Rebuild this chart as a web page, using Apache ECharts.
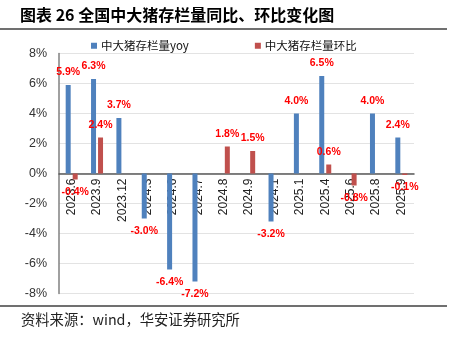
<!DOCTYPE html>
<html>
<head>
<meta charset="utf-8">
<script src="https://cdn.jsdelivr.net/npm/echarts@6/dist/echarts.min.js"></script>
<style>
  html, body { margin: 0; padding: 0; background: #fff; }
  #chart { width: 457px; height: 341px; }
</style>
</head>
<body>
<div id="chart"></div>
<script>
// Sampling months
const categories = ['2023.6', '2023.9', '2023.12', '2024.3', '2024.6', '2024.7', '2024.8',
  '2024.9', '2024.1', '2025.1', '2025.4', '2025.6', '2025.8', '2025.9'];
// Year-on-year change of medium/large hog inventory (%)
const yoyValues = [5.9, 6.3, 3.7, -3.0, -6.4, -7.2, null, null, -3.2, 4.0, 6.5, null, 4.0, 2.4];
// Month-on-month change (%)
const momValues = [-0.4, 2.4, null, null, null, null, 1.8, 1.5, null, null, 0.6, -0.8, null, -0.1];
const yTicks = { min: -8, max: 8, interval: 2 };

const seriesNames = ['中大猪存栏量yoy', '中大猪存栏量环比'];
const colors = ['#4F81BD', '#C0504D'];

const gridTop = 53.5, gridBottom = 47.5, chartHeight = 341;
// distance from the plot bottom up to the zero line, so the category axis sits on it
const plotHeight = chartHeight - gridTop - gridBottom;
const zeroOffset = -plotHeight * (0 - yTicks.min) / (yTicks.max - yTicks.min);

function withLabels(values) {
  return values.map(v => {
    if (v === null) return '-';
    return {
      value: v,
      label: { position: v >= 0 ? 'top' : 'bottom' }
    };
  });
}

const labelStyle = {
  show: true,
  color: '#FF0000',
  fontWeight: 'bold',
  fontSize: 10.5,
  fontFamily: 'Liberation Sans, Arial, sans-serif',
  distance: 7,
  formatter: p => p.value.toFixed(1) + '%'
};

const chart = echarts.init(document.getElementById('chart'), null, { renderer: 'canvas' });
chart.setOption({
  animation: false,
  backgroundColor: '#ffffff',
  graphic: [
    {
      type: 'text', left: 20, top: 7,
      style: {
        text: '图表 26 全国中大猪存栏量同比、环比变化图',
        font: 'bold 16px "Noto Sans CJK SC", sans-serif',
        fill: '#000'
      }
    },
    { type: 'line', shape: { x1: 0, y1: 29, x2: 447, y2: 29 }, style: { stroke: '#404040', lineWidth: 1.5 } },
    { type: 'line', shape: { x1: 0, y1: 306, x2: 447, y2: 306 }, style: { stroke: '#404040', lineWidth: 1.5 } },
    {
      type: 'text', left: 21, top: 312,
      style: {
        text: '资料来源：wind，华安证券研究所',
        font: '14.3px "Noto Sans CJK SC", sans-serif',
        fill: '#222'
      }
    }
  ],
  legend: {
    data: seriesNames,
    top: 35,
    left: 86,
    itemGap: 66,
    itemWidth: 6,
    itemHeight: 6,
    icon: 'rect',
    textStyle: { fontSize: 11.5, color: '#111', fontFamily: '"Noto Sans CJK SC", sans-serif', padding: [0, 0, 0, -1] }
  },
  grid: { left: 59, right: 43, top: gridTop, bottom: gridBottom, containLabel: false },
  xAxis: {
    type: 'category',
    data: categories,
    offset: zeroOffset,
    z: 1,
    axisLine: { onZero: false, lineStyle: { color: '#595959', width: 1.5 } },
    axisTick: { show: false },
    axisLabel: {
      interval: 0, rotate: 90, margin: 5,
      color: '#222', fontSize: 12,
      fontFamily: 'Liberation Sans, Arial, sans-serif'
    }
  },
  yAxis: {
    type: 'value',
    min: yTicks.min, max: yTicks.max, interval: yTicks.interval,
    axisLine: { show: true, lineStyle: { color: '#808080', width: 1.5 } },
    axisTick: { show: false },
    splitLine: { lineStyle: { color: '#E3E3E3', width: 1 } },
    axisLabel: {
      margin: 12, color: '#333', fontSize: 12.5,
      fontFamily: 'Liberation Sans, Arial, sans-serif',
      formatter: v => v + '%'
    }
  },
  series: [
    {
      name: seriesNames[0], type: 'bar', barWidth: 5, barGap: '40%', z: 5,
      itemStyle: { color: colors[0] },
      label: labelStyle,
      data: withLabels(yoyValues)
    },
    {
      name: seriesNames[1], type: 'bar', barWidth: 5, barGap: '40%', z: 5,
      itemStyle: { color: colors[1] },
      label: labelStyle,
      data: withLabels(momValues)
    }
  ]
});
</script>
</body>
</html>
